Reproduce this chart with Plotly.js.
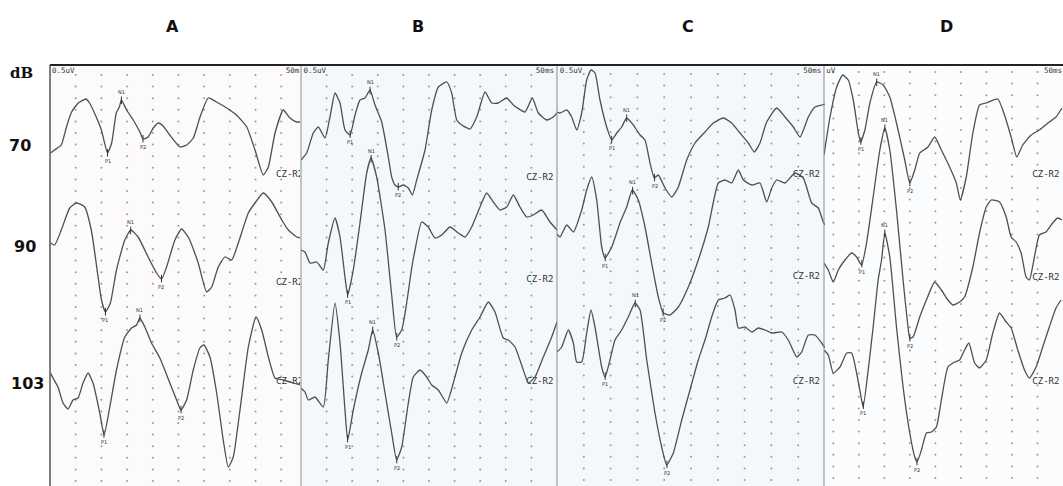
<!DOCTYPE html>
<html><head><meta charset="utf-8">
<script src="https://cdn.plot.ly/plotly-3.0.1.min.js"></script>
<style>html,body{margin:0;padding:0;background:#fff}#chart{width:1063px;height:486px}</style>
</head><body><div id="chart"></div>
<script>
// ---------- categories ----------
const panels = ['A', 'B', 'C', 'D'];
const levels = ['70', '90', '103'];
const peakNames = ['P1', 'N1', 'P2'];

// ---------- waveforms: time (ms) and vertical position on the sheet ----------
const A70_ms = [0.1,0.9,2.2,3.2,4.2,5.5,7.0,7.7,9.0,10.0,11.2,12.0,12.9,13.5,13.9,14.9,16.2,17.5,18.1,19.1,20.1,21.1,22.0,23.3,25.3,26.6,27.9,29.2,30.8,32.4,34.4,36.3,38.3,39.9,41.5,42.5,43.8,45.4,46.7,48.0,48.7];
const A70_y  = [153,150,145,127,112,103,99,103,117,130,153,143,113,107,100,110,120,132,139,137,128,123,126,135,147,145,138,117,98,102,108,115,127,150,175,167,133,110,118,122,122];
const A90_ms = [0.1,0.9,2.2,3.84,5.15,6.75,8.07,9.36,10.02,10.8,11.75,12.94,14.56,15.73,17.15,19.1,20.74,21.72,22.69,24.31,25.61,26.9,28.85,30.49,31.46,32.75,34.05,35.36,36.65,38.6,39.9,41.52,43.16,45.11,46.39,48.03,48.7];
const A90_y  = [243,245,230,208,203,207,231,277,300,312,303,270,240,230,237,257,273,279,267,240,229,237,263,292,287,267,257,260,243,213,203,193,202,220,230,237,238];
const A103_ms = [0.1,0.58,1.56,2.53,3.51,4.48,5.46,6.43,7.41,8.38,9.69,10.53,11.64,12.94,14.56,15.87,16.84,17.49,18.46,19.76,21.38,23.33,24.64,25.48,26.59,27.88,29.18,29.96,31.13,32.44,33.72,34.7,35.67,36.98,38.6,40.1,41.21,42.5,43.8,45.42,47.37,48.7];
const A103_y  = [373,378,387,403,409,400,398,383,373,383,413,435,407,370,337,328,325,318,327,343,358,383,400,410,400,370,348,345,357,393,440,467,457,410,347,317,330,357,378,380,383,385];

const B70_ms = [0,1.11,2.4,3.38,4.69,5.66,6.64,7.62,8.59,9.57,10.55,11.52,12.5,13.48,14.45,15.76,17.05,17.71,18.36,19.0,19.98,20.96,21.74,22.6,24.22,25.53,26.82,28.46,29.43,30.41,31.39,33.01,34.32,35.94,37.25,38.54,40.18,41.47,43.75,45.18,46.35,47.99,49.28,50];
const B70_y  = [160,153,133,127,138,117,93,103,130,135,115,100,98,90,105,122,157,177,185,187,185,188,195,180,150,110,87,82,93,120,125,129,117,92,103,103,98,105,112,98,113,120,117,113];
const B90_ms = [0,0.78,1.76,3.07,4.36,5.33,6.64,7.62,8.59,9.12,10.21,11.52,12.83,13.67,14.78,16.41,17.71,18.69,19.67,20.64,21.62,22.27,23.57,24.86,26.17,27.48,29.1,30.72,32.03,33.34,34.96,36.27,37.56,38.87,40.18,41.47,42.77,44.08,45.37,47.01,48.63,50];
const B90_y  = [250,252,263,262,270,243,218,237,277,295,270,223,173,158,177,230,295,337,330,303,268,250,222,227,238,235,227,233,237,227,207,193,202,210,207,195,207,217,215,210,222,230];
const B103_ms = [0,0.78,1.43,2.73,4.36,5.33,6.64,7.62,8.59,9.12,10.21,11.85,13.14,14.0,15.1,16.41,17.71,18.69,19.67,20.96,21.93,23.24,24.55,25.53,26.82,28.46,29.75,31.39,33.34,34.96,36.58,37.89,39.51,40.49,41.8,43.42,44.4,45.7,47.32,48.96,50];
const B103_y  = [388,392,400,397,407,360,303,343,410,440,410,373,350,330,353,393,433,460,447,403,377,370,377,385,390,403,383,353,330,317,302,312,338,340,347,370,383,377,357,337,322];

const C70_ms = [0,0.56,1.81,2.74,3.68,4.61,5.54,6.34,7.09,8.02,9.27,10.21,11.14,12.07,13.0,14.24,15.49,16.42,17.35,18.16,18.9,20.15,21.4,22.63,24.2,25.75,27.61,29.16,31.03,32.59,34.14,35.69,36.81,37.87,39.12,40.99,42.54,44.09,45.34,46.89,48.13,49.38,50];
const C70_y  = [112,113,110,117,130,113,80,70,73,100,127,140,133,127,118,125,135,140,163,178,175,188,197,187,160,143,132,123,118,123,133,143,152,143,122,108,117,127,137,117,107,105,104];
const C90_ms = [0,0.56,1.81,3.05,4.61,5.54,6.48,7.41,8.34,8.96,10.21,11.75,13.0,14.05,15.17,16.42,17.66,18.9,19.83,21.08,22.63,24.5,26.36,28.23,30.09,31.34,32.59,33.83,34.76,36.33,37.87,39.12,40.06,40.99,42.54,44.4,45.95,47.52,48.75,49.68,50];
const C90_y  = [234,237,225,232,210,190,177,200,247,258,247,223,207,190,200,227,263,297,313,315,307,287,260,227,183,180,183,170,180,185,183,202,188,180,183,173,178,203,208,222,225];
const C103_ms = [0,0.88,2.11,3.05,3.68,4.61,5.54,6.34,7.09,8.34,8.96,9.89,10.82,12.07,13.3,14.55,15.49,16.74,18.28,19.53,20.46,21.7,23.27,24.81,26.36,27.61,28.86,30.09,31.34,32.28,33.21,33.83,35.07,36.33,37.56,38.81,40.06,41.92,43.15,44.72,45.65,46.88,48.13,49.38,50];
const C103_y  = [352,347,330,343,362,362,333,310,327,367,377,360,340,330,317,303,310,360,413,447,465,453,420,390,360,340,317,300,298,295,310,328,327,332,328,330,333,332,340,357,352,335,335,343,348];

const D70_ms = [3.18,4.36,5.66,6.84,7.93,8.91,9.88,10.35,11.19,12.17,13.48,14.77,16.07,17.38,19.0,19.98,20.96,21.93,23.55,24.86,26.17,27.79,29.1,29.88,31.05,32.34,33.65,34.96,37.23,38.54,39.84,40.94,42.11,43.75,45.37,47.32,48.63,49.8];
const D70_y  = [155,117,87,75,80,100,132,142,130,103,82,85,97,123,160,183,170,153,147,137,150,167,183,200,177,133,105,103,99,115,137,157,145,135,130,122,117,108];
const D90_ms = [3.18,4.02,5.0,5.98,7.29,8.59,9.57,10.55,11.52,12.81,14.12,15.1,16.07,17.38,18.67,19.59,19.98,20.63,21.93,23.24,24.86,26.17,27.46,28.44,29.75,30.72,32.34,33.65,34.96,35.94,37.56,38.87,39.84,40.82,41.8,42.77,43.42,44.4,45.37,46.68,47.97,48.95,49.8];
const D90_y  = [263,270,282,270,260,253,257,265,243,197,150,128,150,210,280,325,338,337,317,300,282,290,300,305,302,297,267,233,207,200,202,217,237,242,253,277,280,257,235,232,223,218,220];
const D103_ms = [3.18,4.02,5.0,6.31,7.62,8.59,9.57,10.55,10.86,11.84,12.81,13.79,14.45,15.1,16.07,17.38,18.67,19.98,20.96,21.41,22.27,23.24,24.22,25.2,26.17,27.46,28.77,29.75,30.72,31.56,32.68,33.65,34.96,36.25,37.56,38.87,39.84,41.15,42.46,43.42,44.73,46.03,47.32,48.63,49.61];
const D103_y  = [350,355,373,367,353,353,373,400,407,370,327,280,260,233,257,327,387,433,457,462,450,433,432,427,400,367,362,360,350,343,363,368,360,333,313,322,328,350,370,378,367,347,327,308,300];

// ---------- marked peaks (ms): P1, N1, P2 ----------
const A70_peaks = [11.2, 13.9, 18.1];
const A90_peaks = [10.8, 15.7, 21.7];
const A103_peaks = [10.5, 17.5, 25.5];
const B70_peaks = [9.6, 13.5, 19.0];
const B90_peaks = [9.1, 13.7, 18.7];
const B103_peaks = [9.1, 14.0, 18.7];
const C70_peaks = [10.2, 13.0, 18.2];
const C90_peaks = [9.0, 14.1, 19.8];
const C103_peaks = [9.0, 14.6, 20.5];
const D70_peaks = [10.4, 13.5, 20.0];
const D90_peaks = [10.6, 15.1, 20.0];
const D103_peaks = [10.9, 15.1, 21.4];

// ---------- channel label rows, scale labels (as visible on the cropped sheets) ----------
const channelRowsA = [175, 283, 382];
const channelRowsB = [178, 280, 382];
const channelRowsC = [175, 277, 382];
const channelRowsD = [175, 278, 382];
const channelTexts = ['CZ-R2', 'CZ-R2', 'CZ-R2'];
const levelRows = [145, 246, 383];
const ampLabels = ['0.5uV', '0.5uV', '0.5uV', 'uV'];
const timeLabels = ['50m', '50ms', '50ms', '50ms'];

// ---------- lookup built from arrays ----------
const W = {
  A: {'70':[A70_ms,A70_y,A70_peaks], '90':[A90_ms,A90_y,A90_peaks], '103':[A103_ms,A103_y,A103_peaks]},
  B: {'70':[B70_ms,B70_y,B70_peaks], '90':[B90_ms,B90_y,B90_peaks], '103':[B103_ms,B103_y,B103_peaks]},
  C: {'70':[C70_ms,C70_y,C70_peaks], '90':[C90_ms,C90_y,C90_peaks], '103':[C103_ms,C103_y,C103_peaks]},
  D: {'70':[D70_ms,D70_y,D70_peaks], '90':[D90_ms,D90_y,D90_peaks], '103':[D103_ms,D103_y,D103_peaks]}
};
const chanRows = {A: channelRowsA, B: channelRowsB, C: channelRowsC, D: channelRowsD};

// ---------- layout settings ----------
const FW = 1063;
const axisIds = ['x', 'x2', 'x3', 'x4'];
const domains = [[50/FW, 300/FW], [301/FW, 557/FW], [557/FW, 825/FW], [824/FW, 1]];
const ranges = [[0, 48.66], [0, 50], [0, 50], [3.18, 50]];
const bgFill = ['#fcfafa', '#f4f8fa', '#f5f8fa', '#fbfcfd'];
const gridRow0 = [75, 75, 74, 72];
const gridStep = 11.6;
const ampLabelMs = [0.4, 0.5, 0.5, 3.6];
const timeLabelMs = [48.5, 49.4, 49.3, 49.8];

function interp(xs, ys, x) {
  for (let i = 0; i < xs.length - 1; i++) {
    if (x >= xs[i] && x <= xs[i+1]) {
      const f = (x - xs[i]) / (xs[i+1] - xs[i]);
      return ys[i] + f * (ys[i+1] - ys[i]);
    }
  }
  return ys[ys.length - 1];
}

const traces = [];
const annotations = [];
const shapes = [];
const layout = {
  width: 1063, height: 486,
  margin: {l: 0, r: 0, t: 65, b: 0},
  paper_bgcolor: '#ffffff', plot_bgcolor: 'rgba(0,0,0,0)',
  showlegend: false,
  yaxis: {range: [486, 65], visible: false, fixedrange: true, domain: [0, 1], anchor: 'x'}
};

panels.forEach((p, i) => {
  const xa = axisIds[i];
  const axKey = i === 0 ? 'xaxis' : 'xaxis' + (i + 1);
  layout[axKey] = {domain: domains[i], range: ranges[i], visible: false, fixedrange: true, anchor: 'y'};
  const domRef = xa + ' domain';
  shapes.push({type: 'rect', layer: 'below', xref: domRef, yref: 'paper', x0: 0, x1: 1, y0: 0, y1: 1,
               fillcolor: bgFill[i], line: {width: 0}});
  shapes.push({type: 'line', xref: domRef, yref: 'paper', x0: 0, x1: 0, y0: 0, y1: 1,
               line: {color: i === 0 ? '#555' : '#8a8a8a', width: i === 0 ? 1.5 : 1}});

  // dotted grid (every 5 ms, every row step)
  const gx = [], gy = [];
  for (let ms = 5; ms <= 45; ms += 5) {
    for (let r = gridRow0[i]; r <= 486; r += gridStep) { gx.push(ms); gy.push(r); }
  }
  traces.push({type: 'scatter', mode: 'markers', x: gx, y: gy, xaxis: xa, yaxis: 'y',
               marker: {size: 2, color: '#9a9a9a'}, hoverinfo: 'skip'});

  // scale labels
  traces.push({type: 'scatter', mode: 'text', x: [ampLabelMs[i]], y: [71], xaxis: xa, yaxis: 'y',
               text: [ampLabels[i]], textposition: 'middle right', cliponaxis: true,
               textfont: {family: 'DejaVu Sans Mono', size: 7.5, color: '#333'}, hoverinfo: 'skip'});
  traces.push({type: 'scatter', mode: 'text', x: [timeLabelMs[i]], y: [71], xaxis: xa, yaxis: 'y',
               text: [timeLabels[i]], textposition: 'middle left', cliponaxis: true,
               textfont: {family: 'DejaVu Sans Mono', size: 7.5, color: '#333'}, hoverinfo: 'skip'});
  // channel labels
  traces.push({type: 'scatter', mode: 'text', x: [44, 44, 44], y: chanRows[p], xaxis: xa, yaxis: 'y',
               text: channelTexts, textposition: 'middle right', cliponaxis: true,
               textfont: {family: 'DejaVu Sans Mono', size: 9, color: '#333'}, hoverinfo: 'skip'});

  levels.forEach((lv) => {
    const [xs, ys, pk] = W[p][lv];
    traces.push({type: 'scatter', mode: 'lines', x: xs, y: ys, xaxis: xa, yaxis: 'y',
                 name: p + ' ' + lv + ' dB',
                 line: {color: '#4f4f4f', width: 1.3, shape: 'spline', smoothing: 0.5},
                 hoverinfo: 'skip'});
    pk.forEach((ms, k) => {
      const yy = interp(xs, ys, ms);
      const isN = peakNames[k] === 'N1';
      annotations.push({xref: xa, yref: 'y', x: ms, y: yy + (isN ? 4 : -4), text: peakNames[k],
        showarrow: true, arrowhead: 0, arrowwidth: 1, arrowcolor: '#333',
        ax: 0, ay: isN ? -12 : 12, standoff: 0,
        font: {family: 'DejaVu Sans', size: 5, color: '#333'}});
    });
  });

  // panel title
  annotations.push({xref: 'paper', yref: 'paper', x: [172, 418, 688, 946][i] / FW, y: (486 - 27) / 421,
    text: '<b>' + p + '</b>', showarrow: false, xanchor: 'center', yanchor: 'middle',
    font: {family: 'DejaVu Sans', size: 16, color: '#111'}});
});

// top border
shapes.push({type: 'line', xref: 'paper', yref: 'paper', x0: 50 / FW, x1: 1, y0: 1, y1: 1,
             line: {color: '#222', width: 2}});

// left labels
annotations.push({xref: 'paper', yref: 'y', x: 21 / FW, y: 73, text: '<b>dB</b>', showarrow: false,
  xanchor: 'center', yanchor: 'middle',
  font: {family: 'DejaVu Serif', size: 15, color: '#111'}});
levels.forEach((lv, j) => {
  annotations.push({xref: 'paper', yref: 'y', x: [20, 25, 27][j] / FW, y: levelRows[j], text: '<b>' + lv + '</b>',
    showarrow: false, xanchor: 'center', yanchor: 'middle',
    font: {family: 'DejaVu Sans', size: 16, color: '#111'}});
});

layout.shapes = shapes;
layout.annotations = annotations;
Plotly.newPlot('chart', traces, layout, {staticPlot: true, displayModeBar: false});
</script>
</body></html>
